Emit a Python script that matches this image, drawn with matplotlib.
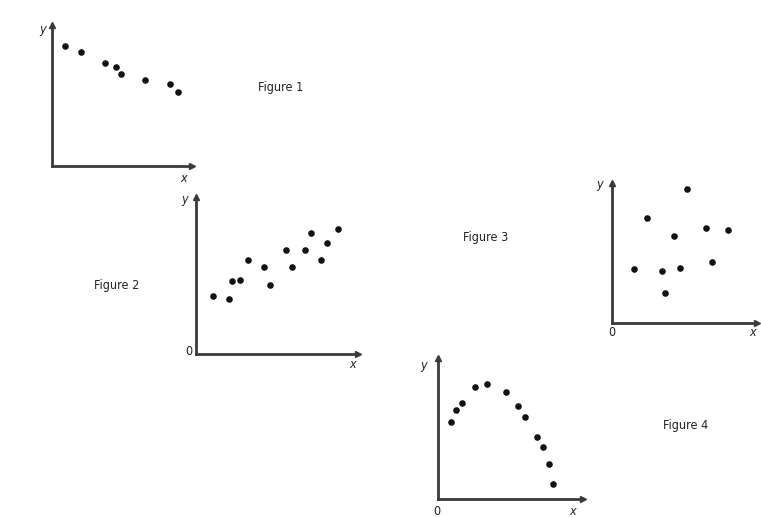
import matplotlib
matplotlib.use("Agg")
import matplotlib.pyplot as plt

# Data (units: arbitrary, measured from each plot's origin)
fig1_x = [12.7, 28.7, 53, 64, 69, 93, 117.7, 126]
fig1_y = [120.3, 113.7, 102.7, 99.3, 92.3, 86.3, 82, 74.3]

fig2_x = [16.7, 33, 36, 44, 51.7, 68.3, 74, 89.7, 96, 109.3, 114.7, 125, 130.7, 142]
fig2_y = [58.6, 55.3, 73, 74.3, 94.6, 87.3, 69.6, 104, 87.3, 104.3, 121.3, 94, 111, 125.6]

fig3_x = [21.4, 34.4, 49.7, 53, 62, 67.7, 74.7, 93.4, 99.7, 115.7]
fig3_y = [54.6, 105.6, 52.3, 30.6, 87.3, 55.6, 134, 95.6, 61.3, 93.3]

fig4_x = [13, 18.6, 24.6, 37.3, 49.6, 68.6, 80.3, 87.3, 99, 105.6, 111.6, 115.3]
fig4_y = [77, 89, 96, 112.3, 114.7, 107.3, 93.3, 82, 62, 51.7, 34.7, 15]

titles = ["Figure 1", "Figure 2", "Figure 3", "Figure 4"]

W, H = 761, 517
fig = plt.figure(figsize=(W / 100, H / 100), dpi=100)
fig.patch.set_facecolor("white")

AXC = "#3a3a3a"
TXT = dict(family="DejaVu Sans", stretch="condensed", color="#222222")

def make_axes(ox, oy, right, top, xs, ys, show_zero, lab_y, lab_x, lab_0):
    w = right - ox
    h = oy - top
    ax = fig.add_axes([ox / W, (H - oy) / H, w / W, h / H])
    ax.set_xlim(0, w)
    ax.set_ylim(0, h)
    ax.patch.set_alpha(0)
    for s in ["top", "right"]:
        ax.spines[s].set_visible(False)
    for s in ["left", "bottom"]:
        ax.spines[s].set_linewidth(2.0)
        ax.spines[s].set_color(AXC)
    ax.set_xticks([])
    ax.set_yticks([])
    ax.plot([1], [0], ">", color=AXC, ms=5, transform=ax.transAxes, clip_on=False)
    ax.plot([0], [1], "^", color=AXC, ms=5, transform=ax.transAxes, clip_on=False)
    ax.scatter(xs, ys, s=14, color="#111111", zorder=3, clip_on=False)
    ax.text(lab_y[0], lab_y[1], "y", fontsize=9, style="italic",
            ha="center", va="center", **TXT)
    ax.text(lab_x[0], lab_x[1], "x", fontsize=9, style="italic",
            ha="center", va="center", **TXT)
    if show_zero:
        ax.text(lab_0[0], lab_0[1], "0", fontsize=9,
                ha="center", va="center", **TXT)
    return ax

make_axes(52, 166, 192, 25, fig1_x, fig1_y, False, (-9.3, 136.7), (132, -13), None)
make_axes(196, 354.3, 358, 196.7, fig2_x, fig2_y, True, (-11, 154.3), (156.3, -10.7), (-7, 2.6))
make_axes(612.3, 323.3, 757, 183.3, fig3_x, fig3_y, True, (-12.3, 138.3), (140.7, -9.7), (0, -9.7))
make_axes(437.7, 499, 583, 358, fig4_x, fig4_y, True, (-13.7, 134), (135.3, -12.7), (-1, -12.7))

# Figure captions (pixel positions)
cap_pos = [(281, 88), (117, 285), (486, 237), (686, 425)]
for t, (px, py) in zip(titles, cap_pos):
    fig.text(px / W, 1 - py / H, t, fontsize=9, ha="center", va="center", **TXT)

fig.savefig("out.png", dpi=100)
